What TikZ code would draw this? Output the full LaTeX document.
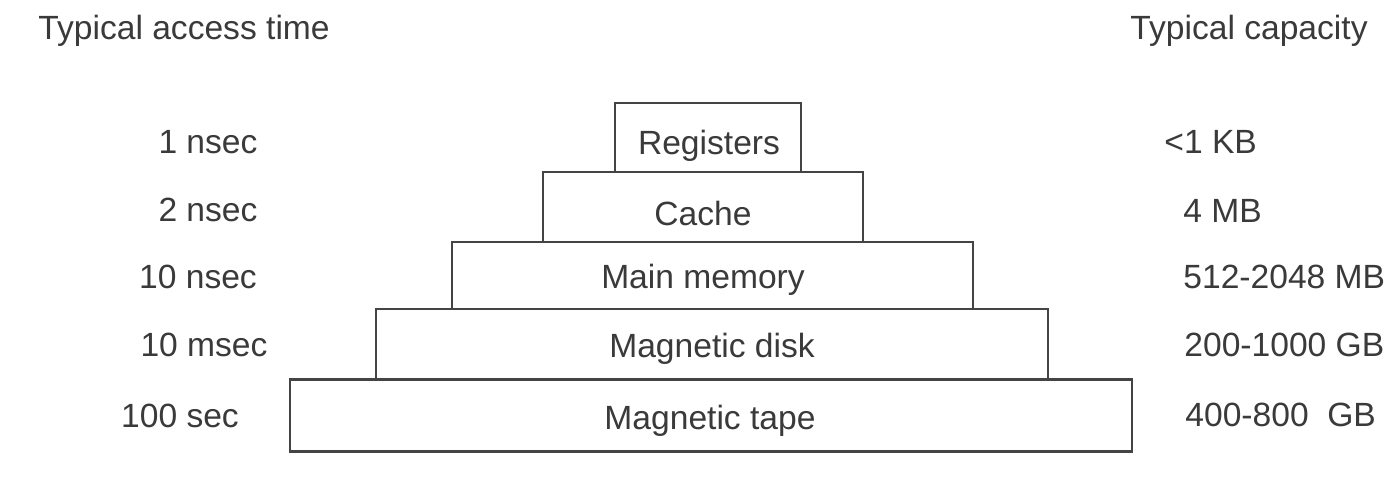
\documentclass[tikz,border=0pt]{standalone}
\usepackage{fontspec}
\setmainfont{Liberation Sans}
\definecolor{ink}{HTML}{3A3A3A}
\definecolor{edge}{HTML}{444444}
\begin{document}
\begin{tikzpicture}[x=0.5pt,y=-0.5pt,
  level/.style={draw=edge, line width=1.4pt, rectangle, inner sep=0pt},
  lbl/.style={text=ink, inner sep=0pt, font=\fontsize{16.8}{19}\selectfont},
  lbll/.style={lbl, anchor=west}]
\useasboundingbox[fill=white] (0,0) rectangle (1396,478);
% boxes
\node[level, minimum width=93pt, minimum height=34.5pt] (reg) at (708,137.5) {};
\node[level, minimum width=160pt, minimum height=35pt] (cache) at (703,207) {};
\node[level, minimum width=260.5pt, minimum height=33.5pt] (main) at (712.5,275.5) {};
\node[level, minimum width=336pt, minimum height=35pt] (disk) at (712,344) {};
\node[level, minimum width=421pt, minimum height=36pt] (tape) at (711,415.5) {};
% box texts
\node[lbl] (tReg) at (709,146) {Registers};
\node[lbl] (tCache) at (703,213) {Cache};
\node[lbl] (tMain) at (703,280) {Main memory};
\node[lbl] (tDisk) at (712,349) {Magnetic disk};
\node[lbl] (tTape) at (710,421) {Magnetic tape};
% headers
\node[lbll] (hl) at (38,31) {Typical access time};
\node[lbl, anchor=east] (hr) at (1368,31) {Typical capacity};
% access times
\node[lbl] (a1) at (208,142) {1 nsec};
\node[lbl] (a2) at (208,210) {2 nsec};
\node[lbl] (a3) at (198,277) {10 nsec};
\node[lbl] (a4) at (204,345) {10 msec};
\node[lbl] (a5) at (180,416) {100 sec};
% capacities
\node[lbll] (c1) at (1164,142) {<1 KB};
\node[lbll] (c2) at (1183,211) {4 MB};
\node[lbll] (c3) at (1183,277) {512-2048 MB};
\node[lbll] (c4) at (1184,345) {200-1000 GB};
\node[lbll] (c5) at (1185,415) {400-800\ \ GB};
\end{tikzpicture}
\end{document}
